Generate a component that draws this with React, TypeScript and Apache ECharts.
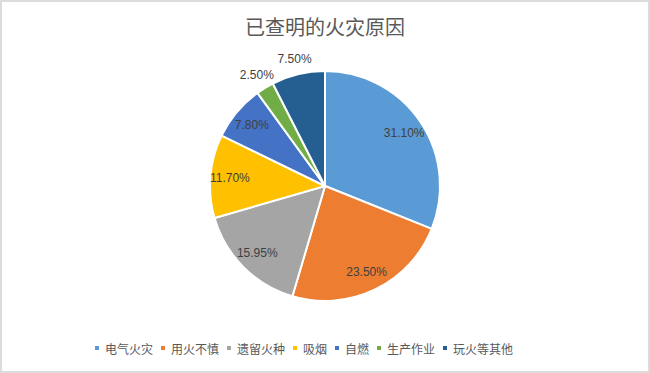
import React, { useEffect, useRef } from "react";
import * as echarts from "echarts";

const titleText = "已查明的火灾原因";
const categories = ["电气火灾", "用火不慎", "遗留火种", "吸烟", "自燃", "生产作业", "玩火等其他"];
const values = [31.1, 23.5, 15.95, 11.7, 7.8, 2.5, 7.5];
const valueLabels = ["31.10%", "23.50%", "15.95%", "11.70%", "7.80%", "2.50%", "7.50%"];
const colors = ["#5B9BD5", "#ED7D31", "#A5A5A5", "#FFC000", "#4472C4", "#70AD47", "#255E91"];
const outsideLabel = [false, false, false, false, false, true, true];

export default function App() {
  const ref = useRef<HTMLDivElement>(null);
  useEffect(() => {
    document.body.style.margin = "0";
    if (!ref.current) return;
    const chart = echarts.init(ref.current, null, { renderer: "svg" });
    const labelFont = { fontFamily: "Liberation Sans, Arial, sans-serif", fontSize: 12, color: "#404040" };
    const baseData = categories.map((name, i) => ({ name, value: values[i] }));
    const ringData = (outside: boolean) =>
      categories.map((name, i) => ({
        name,
        value: values[i],
        itemStyle: { color: "rgba(0,0,0,0)" },
        label: { show: outsideLabel[i] === outside },
      }));
    chart.setOption({
      animation: false,
      backgroundColor: "#ffffff",
      title: {
        text: titleText,
        left: "center",
        top: 11,
        textStyle: { fontFamily: "Noto Sans CJK SC", fontSize: 20, fontWeight: "normal", color: "#595959" },
      },
      legend: {
        bottom: 14,
        left: 88,
        icon: "rect",
        itemWidth: 6,
        itemHeight: 6,
        itemGap: 6,
        textStyle: { fontFamily: "Noto Sans CJK SC", fontSize: 12, color: "#595959" },
        data: categories.map((name, i) => ({ name, itemStyle: { color: colors[i] } })),
      },
      color: colors,
      series: [
        {
          type: "pie",
          center: [325, 186],
          radius: 115,
          startAngle: 90,
          clockwise: true,
          data: baseData,
          label: { show: false },
          labelLine: { show: false },
          itemStyle: { borderColor: "#ffffff", borderWidth: 2 },
          emphasis: { disabled: true },
        },
        {
          type: "pie",
          center: [325, 186],
          radius: [70, 115],
          startAngle: 90,
          clockwise: true,
          silent: true,
          data: ringData(false),
          label: {
            position: "inside",
            ...labelFont,
            formatter: (p: any) => valueLabels[p.dataIndex],
          },
          labelLine: { show: false },
          emphasis: { disabled: true },
        },
        {
          type: "pie",
          center: [325, 186],
          radius: [115, 140],
          startAngle: 90,
          clockwise: true,
          silent: true,
          data: ringData(true),
          label: {
            position: "inside",
            ...labelFont,
            formatter: (p: any) => valueLabels[p.dataIndex],
          },
          labelLine: { show: false },
          emphasis: { disabled: true },
        },
      ],
    });
    return () => chart.dispose();
  }, []);
  return (
    <div style={{ position: "relative", width: 650, height: 373 }}>
      <div ref={ref} style={{ position: "absolute", left: 0, top: 0, width: 650, height: 373 }} />
      <div
        style={{
          position: "absolute",
          left: 0,
          top: 0,
          width: 650,
          height: 373,
          boxSizing: "border-box",
          border: "2px solid #dcdcdc",
          pointerEvents: "none",
        }}
      />
    </div>
  );
}
